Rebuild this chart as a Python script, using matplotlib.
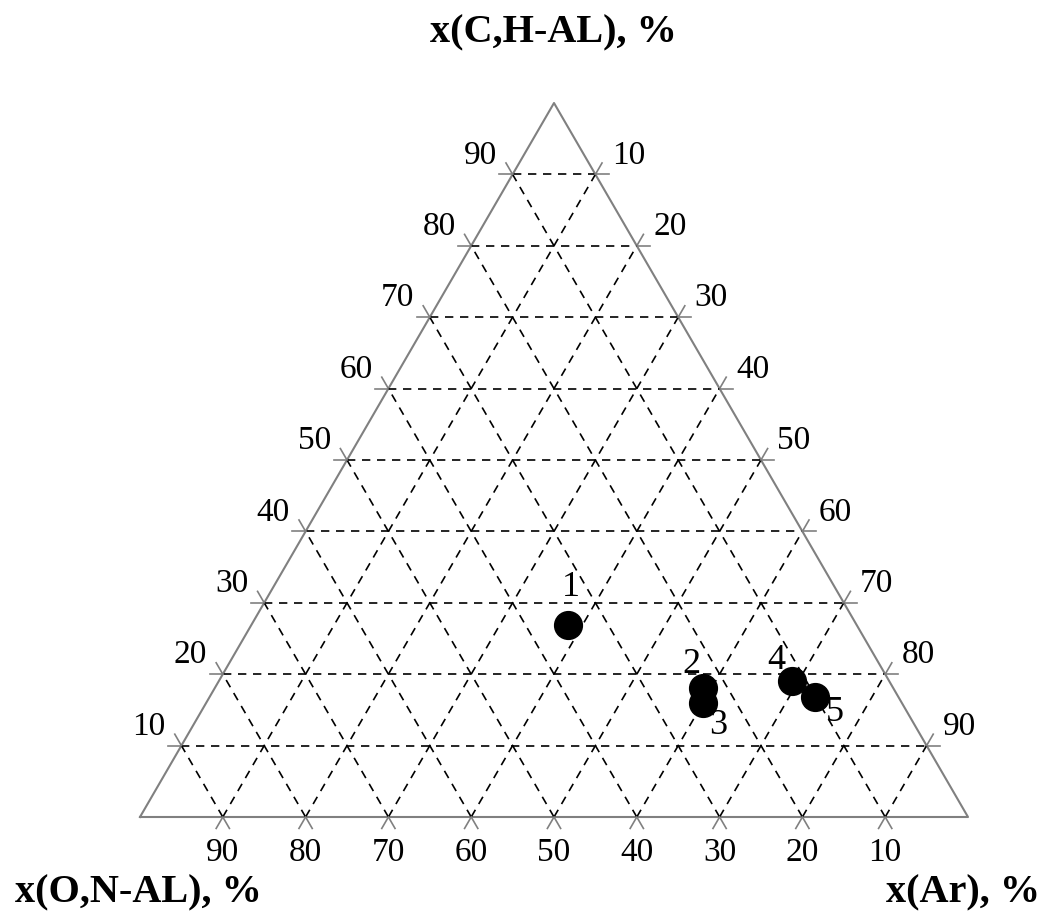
import matplotlib.pyplot as plt
import numpy as np

plt.rcParams['font.family'] = ['Liberation Serif', 'DejaVu Serif']

# composition of the samples, %
labels = ['1', '2', '3', '4', '5']
ch_al = [26.9, 18.1, 16.0, 19.0, 16.8]
ar = [38.3, 59.0, 60.0, 69.2, 73.1]
on_al = [100 - a - b for a, b in zip(ch_al, ar)]

# offsets of the number labels (in % units)
lab_dx = [0.3, -1.4, 1.8, -1.8, 2.4]
lab_dy = [4.5, 2.8, -2.8, 2.5, -1.9]

levels = [10, 20, 30, 40, 50, 60, 70, 80, 90]

H = np.sqrt(3) / 2


def xy(ar_v, ch_v):
    # bottom left = O,N-AL, bottom right = Ar, top = C,H-AL
    return ar_v + ch_v / 2, ch_v * H


fig = plt.figure(figsize=(10.47, 9.15), dpi=100)
ax = fig.add_axes([140 / 1047, 98 / 915, 828 / 1047, 714 / 915])
ax.set_xlim(0, 100)
ax.set_ylim(0, 100 * H)
ax.axis('off')

grey = '#808080'
ext = 1.6  # length of the tick marks

# triangle
ax.plot([0, 100, 50, 0], [0, 0, 100 * H, 0], color=grey, lw=1.5, clip_on=False)

for v in levels:
    # C,H-AL = v  (horizontal)
    x0, y0 = xy(0, v)
    x1, y1 = xy(100 - v, v)
    ax.plot([x0, x1], [y0, y1], 'k--', lw=1.2, dashes=(5, 4))
    ax.plot([x0 - ext, x0], [y0, y0], color=grey, lw=1.2, clip_on=False)
    ax.plot([x1, x1 + ext], [y1, y1], color=grey, lw=1.2, clip_on=False)
    # Ar = v  (parallel to left edge)
    x0, y0 = xy(v, 0)
    x1, y1 = xy(v, 100 - v)
    ax.plot([x0, x1], [y0, y1], 'k--', lw=1.2, dashes=(5, 4))
    ax.plot([x0 - ext / 2, x0], [y0 - ext * H, y0], color=grey, lw=1.2, clip_on=False)
    ax.plot([x1, x1 + ext / 2], [y1, y1 + ext * H], color=grey, lw=1.2, clip_on=False)
    # O,N-AL = v  (parallel to right edge)
    x0, y0 = xy(100 - v, 0)
    x1, y1 = xy(0, 100 - v)
    ax.plot([x0, x1], [y0, y1], 'k--', lw=1.2, dashes=(5, 4))
    ax.plot([x0, x0 + ext / 2], [y0, y0 - ext * H], color=grey, lw=1.2, clip_on=False)
    ax.plot([x1 - ext / 2, x1], [y1 + ext * H, y1], color=grey, lw=1.2, clip_on=False)

    # tick labels
    fs = 24
    x, y = xy(0, v)
    ax.text(x - 3.9, y + 2.3, str(v), fontsize=fs, ha='center', va='center')
    x, y = xy(v, 100 - v)
    ax.text(x + 4.0, y + 2.3, str(v), fontsize=fs, ha='center', va='center')
    x, y = xy(100 - v, 0)
    ax.text(x, y - 4.3, str(v), fontsize=fs, ha='center', va='center')

# data points
px, py = xy(np.array(ar), np.array(ch_al))
ax.plot(px, py, 'o', color='k', ms=20, clip_on=False)
for i in range(len(labels)):
    ax.text(px[i] + lab_dx[i], py[i] + lab_dy[i], labels[i], fontsize=26,
            ha='center', va='center', zorder=5)

fig.text(553 / 1047, 1 - 33 / 915, 'x(C,H-AL), %', fontsize=29, fontweight='bold',
         ha='center', va='center')
fig.text(15 / 1047, 1 - 893 / 915, 'x(O,N-AL), %', fontsize=29, fontweight='bold',
         ha='left', va='center')
fig.text(1040 / 1047, 1 - 893 / 915, 'x(Ar), %', fontsize=29, fontweight='bold',
         ha='right', va='center')

fig.savefig('out.png', dpi=100, facecolor='white')
